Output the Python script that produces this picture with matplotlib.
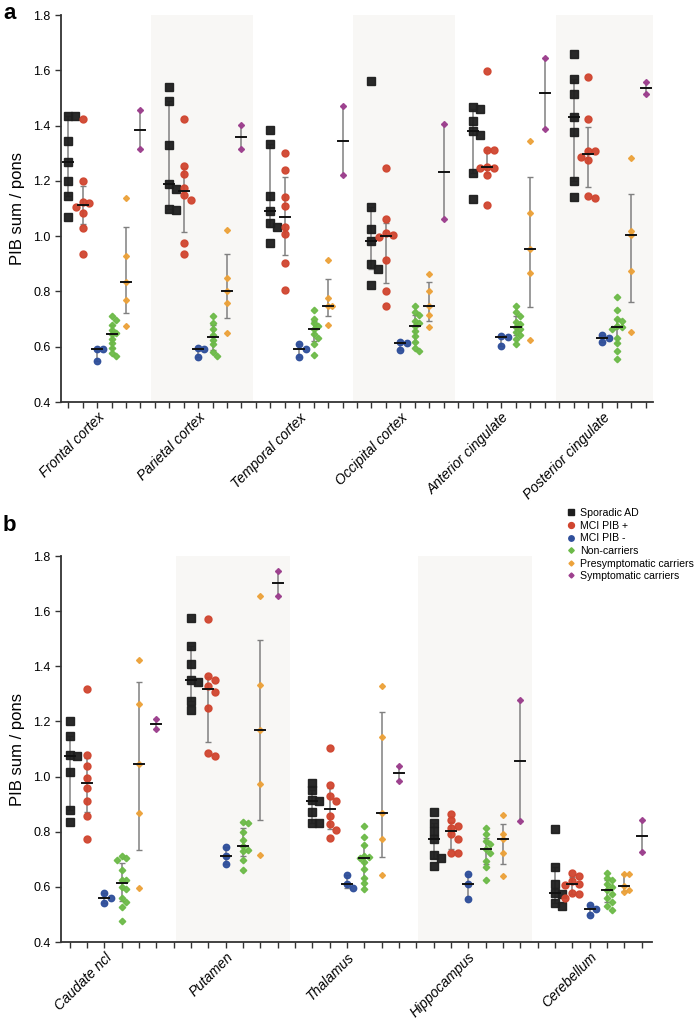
import matplotlib.pyplot as plt
import numpy as np

plt.rcParams['font.family'] = ['Liberation Sans', 'DejaVu Sans']

groups = ['Sporadic AD', 'MCI PIB +', 'MCI PIB -', 'Non-carriers',
          'Presymptomatic carriers', 'Symptomatic carriers']
colors = ['#1e1e1e', '#d0452f', '#2f4f9b', '#6cba48', '#eca23a', '#9d3f8e']
markers = ['s', 'o', 'o', 'D', 'D', 'D']
msizes = [5.2, 5.0, 4.6, 3.3, 3.0, 3.0]

regions_a = ['Frontal cortex', 'Parietal cortex', 'Temporal cortex',
             'Occipital cortex', 'Anterior cingulate', 'Posterior cingulate']
regions_b = ['Caudate ncl', 'Putamen', 'Thalamus', 'Hippocampus', 'Cerebellum']

# ---- panel a values (one list per region)
ad_a = [
    [1.435, 1.435, 1.345, 1.270, 1.198, 1.147, 1.071],
    [1.540, 1.489, 1.328, 1.189, 1.172, 1.099, 1.096],
    [1.385, 1.332, 1.147, 1.090, 1.048, 1.032, 0.975],
    [1.562, 1.105, 1.026, 0.981, 0.898, 0.880, 0.823],
    [1.466, 1.461, 1.417, 1.379, 1.367, 1.230, 1.135],
    [1.659, 1.570, 1.513, 1.431, 1.377, 1.201, 1.143],
]
mcipos_a = [
    [1.423, 1.200, 1.124, 1.120, 1.105, 1.083, 1.029, 0.935],
    [1.423, 1.252, 1.226, 1.174, 1.149, 1.131, 0.975, 0.935],
    [1.301, 1.241, 1.140, 1.108, 1.032, 1.008, 0.904, 0.805],
    [1.247, 1.061, 1.010, 1.005, 0.998, 0.915, 0.801, 0.746],
    [1.597, 1.310, 1.310, 1.250, 1.247, 1.247, 1.220, 1.113],
    [1.576, 1.424, 1.307, 1.307, 1.286, 1.276, 1.147, 1.137],
]
mcineg_a = [
    [0.593, 0.591, 0.548],
    [0.597, 0.591, 0.561],
    [0.609, 0.593, 0.561],
    [0.617, 0.615, 0.587],
    [0.637, 0.636, 0.603],
    [0.643, 0.631, 0.617],
]
noncar_a = [
    [0.710, 0.695, 0.678, 0.662, 0.648, 0.645, 0.628, 0.612, 0.596, 0.578, 0.568],
    [0.710, 0.685, 0.663, 0.642, 0.625, 0.609, 0.582, 0.567],
    [0.733, 0.702, 0.685, 0.675, 0.663, 0.645, 0.633, 0.609, 0.569],
    [0.746, 0.725, 0.714, 0.694, 0.685, 0.676, 0.657, 0.637, 0.617, 0.597, 0.585],
    [0.748, 0.727, 0.712, 0.688, 0.682, 0.670, 0.663, 0.654, 0.642, 0.627, 0.609],
    [0.781, 0.734, 0.700, 0.694, 0.676, 0.673, 0.665, 0.631, 0.615, 0.585, 0.557],
]
presym_a = [
    [1.137, 0.929, 0.835, 0.770, 0.676],
    [1.022, 0.847, 0.800, 0.759, 0.649],
    [0.915, 0.777, 0.746, 0.746, 0.679],
    [0.864, 0.802, 0.746, 0.714, 0.673],
    [1.343, 1.083, 0.953, 0.867, 0.623],
    [1.284, 1.020, 1.004, 0.873, 0.654],
]
sympt_a = [
    [1.455, 1.315], [1.401, 1.314], [1.471, 1.220],
    [1.405, 1.062], [1.645, 1.389], [1.556, 1.516],
]

# ---- panel b values
ad_b = [
    [1.201, 1.148, 1.078, 1.074, 1.015, 0.878, 0.836],
    [1.574, 1.475, 1.408, 1.350, 1.344, 1.275, 1.243],
    [0.978, 0.951, 0.914, 0.911, 0.870, 0.832, 0.830],
    [0.870, 0.833, 0.803, 0.773, 0.715, 0.706, 0.675],
    [0.809, 0.672, 0.609, 0.576, 0.573, 0.543, 0.531],
]
mcipos_b = [
    [1.317, 1.078, 1.038, 0.995, 0.960, 0.911, 0.857, 0.775],
    [1.570, 1.366, 1.352, 1.328, 1.308, 1.247, 1.086, 1.074],
    [1.104, 0.970, 0.929, 0.911, 0.856, 0.827, 0.805, 0.779],
    [0.866, 0.842, 0.821, 0.815, 0.790, 0.773, 0.723, 0.723],
    [0.652, 0.640, 0.621, 0.610, 0.608, 0.579, 0.573, 0.560],
]
mcineg_b = [
    [0.579, 0.561, 0.542],
    [0.745, 0.712, 0.683],
    [0.642, 0.612, 0.597],
    [0.648, 0.609, 0.555],
    [0.533, 0.518, 0.497],
]
noncar_b = [
    [0.711, 0.705, 0.697, 0.660, 0.625, 0.625, 0.600, 0.591, 0.559, 0.545, 0.527, 0.476],
    [0.836, 0.830, 0.800, 0.769, 0.747, 0.735, 0.730, 0.697, 0.660],
    [0.821, 0.781, 0.751, 0.712, 0.709, 0.705, 0.690, 0.666, 0.632, 0.614, 0.594],
    [0.815, 0.791, 0.766, 0.757, 0.736, 0.721, 0.693, 0.672, 0.624],
    [0.650, 0.632, 0.625, 0.612, 0.600, 0.588, 0.575, 0.560, 0.545, 0.530, 0.515],
]
presym_b = [
    [1.422, 1.265, 1.047, 0.869, 0.596],
    [1.656, 1.332, 1.168, 0.972, 0.715],
    [1.328, 1.142, 0.868, 0.775, 0.642],
    [0.862, 0.791, 0.773, 0.724, 0.640],
    [0.645, 0.645, 0.604, 0.590, 0.582],
]
sympt_b = [
    [1.208, 1.172], [1.746, 1.656], [1.039, 0.985], [1.277, 0.838], [0.844, 0.727],
]

W, H = 700, 1021
fig = plt.figure(figsize=(W / 100, H / 100), dpi=100)


def swarm(vals, xpx, ypx, diam):
    # simple beeswarm: shift points sideways when they would overlap
    order = np.argsort(vals)[::-1]
    placed = []
    offs = np.zeros(len(vals))
    step = diam * 0.9
    cands = [0]
    for k in range(1, 6):
        cands += [k * step, -k * step]
    for i in order:
        yp = vals[i] * ypx
        for c in cands:
            if all((c - px) ** 2 + (yp - py) ** 2 >= (diam * 0.85) ** 2 for px, py in placed):
                break
        placed.append((c, yp))
        offs[i] = c / xpx
    return offs


def draw_panel(ax, names, data, xlim, shade):
    ax.set_xlim(*xlim)
    ax.set_ylim(0.4, 1.8)
    bb = ax.get_position()
    xpx = bb.width * W / (xlim[1] - xlim[0])
    ypx = bb.height * H / 1.4
    for r in range(len(names)):
        if r % 2 == 1:
            ax.axvspan(7 * r + shade[0], 7 * r + shade[1], color='#f8f7f5', zorder=0, lw=0)
        for g in range(6):
            v = np.array(data[g][r])
            x0 = 7 * r + g
            med = np.median(v)
            q1, q3 = np.percentile(v, [25, 75], method='weibull')
            ax.errorbar(x0, med, yerr=[[med - q1], [q3 - med]], fmt='none',
                        ecolor='#808080', elinewidth=1.1, capsize=2.2, capthick=1.0, zorder=2)
            dx = swarm(v, xpx, ypx, msizes[g] * 1.39 + 0.6)
            ax.plot(x0 + dx, v, ls='none', marker=markers[g], ms=msizes[g],
                    color=colors[g], mec=colors[g], alpha=0.95, zorder=3)
            hw = 5.0 / xpx
            ax.plot([x0 - hw, x0 + hw], [med, med], color='#111111', lw=1.4, zorder=4)
    n = int(np.floor(xlim[1]))
    ax.set_xticks(np.arange(0, n + 1), minor=True)
    ax.set_xticks([7 * r + 2 for r in range(len(names))])
    ax.set_xticklabels(names, rotation=45, ha='right', rotation_mode='anchor',
                       fontsize=10, style='italic')
    ax.set_yticks(np.arange(0.4, 1.81, 0.2))
    ax.set_yticklabels(['%.1f' % t for t in np.arange(0.4, 1.81, 0.2)], fontsize=9)
    ax.set_ylabel('PIB sum / pons', fontsize=12, labelpad=6)
    for s in ['top', 'right']:
        ax.spines[s].set_visible(False)
    for s in ['left', 'bottom']:
        ax.spines[s].set_linewidth(1.3)
        ax.spines[s].set_color('#333333')
    ax.tick_params(axis='both', which='both', direction='out', length=4, width=1, color='#333333')
    ax.tick_params(axis='x', which='major', pad=2)


ax_a = fig.add_axes([61 / W, 1 - 402 / H, 592 / W, 387 / H])
draw_panel(ax_a, regions_a, [ad_a, mcipos_a, mcineg_a, noncar_a, presym_a, sympt_a],
           (-0.5, 40.5), (-1.25, 5.8))

ax_b = fig.add_axes([61 / W, 1 - 942 / H, 591 / W, 386 / H])
draw_panel(ax_b, regions_b, [ad_b, mcipos_b, mcineg_b, noncar_b, presym_b, sympt_b],
           (-0.5, 33.6), (-0.88, 5.7))

handles = [plt.Line2D([], [], ls='none', marker=markers[g], ms=msizes[g] * 0.85,
                      color=colors[g]) for g in range(6)]
fig.legend(handles, groups, loc='upper left', bbox_to_anchor=(567 / W, 1 - 508 / H),
           frameon=False, fontsize=7.6, handlelength=0.8, handletextpad=0.4,
           labelspacing=0.25, borderaxespad=0, borderpad=0)

fig.text(3 / W, 1 - 3 / H, 'a', fontsize=16, fontweight='bold', va='top', ha='left')
fig.text(3 / W, 1 - 515 / H, 'b', fontsize=16, fontweight='bold', va='top', ha='left')

fig.savefig('out.png', dpi=100)
